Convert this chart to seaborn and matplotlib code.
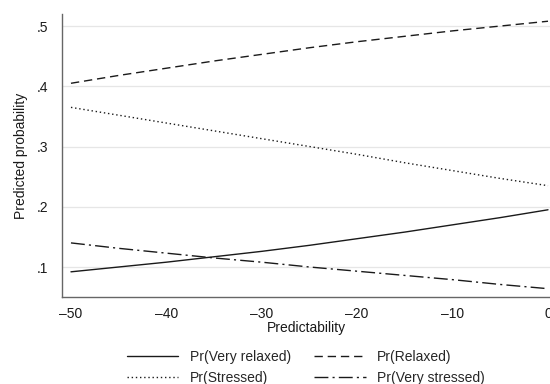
import pandas as pd
import matplotlib
matplotlib.use("Agg")
import matplotlib.pyplot as plt
import seaborn as sns

#-------------------------------------------------------------------------

# Values
predictability = [-50, -45, -40, -35, -30, -25, -20, -15, -10, -5, 0]
very_relaxed = [.092, .100, .108, .117, .126, .136, .147, .158, .170, .182, .195]
relaxed = [.405, .418, .430, .442, .453, .464, .474, .483, .492, .500, .508]
stressed = [.365, .352, .339, .326, .313, .300, .287, .273, .260, .247, .235]
very_stressed = [.140, .131, .123, .115, .108, .100, .093, .086, .079, .071, .064]

labels = ["Pr(Very relaxed)", "Pr(Relaxed)", "Pr(Stressed)", "Pr(Very stressed)"]
x_ticks = [-50, -40, -30, -20, -10, 0]
x_ticklabels = ["\u201350", "\u201340", "\u201330", "\u201320", "\u201310", "0"]
y_ticks = [.1, .2, .3, .4, .5]
y_ticklabels = [".1", ".2", ".3", ".4", ".5"]

#-------------------------------------------------------------------------

def main():
    sns.set_style("white")
    plt.rcParams['font.family'] = ['Liberation Sans', 'DejaVu Sans']
    fs = 10

    series = [very_relaxed, relaxed, stressed, very_stressed]
    styles = ['-', (0, (6, 3.5)), (0, (1, 2)), (0, (10, 3, 1.5, 3))]

    fig = plt.figure(figsize=(5.5, 3.84), dpi=100)
    ax = fig.add_axes([62 / 550, 1 - 297 / 384, 488 / 550, 283 / 384])

    for vals, lab, ls in zip(series, labels, styles):
        df = pd.DataFrame({'x': predictability, 'y': vals})
        sns.lineplot(data=df, x='x', y='y', ax=ax, color='#1a1a1a',
                     linewidth=1.0, linestyle=ls, label=lab)

    ax.set_xlim(-50.94, 0.21)
    ax.set_ylim(0.0502, 0.52)
    ax.set_xticks(x_ticks)
    ax.set_xticklabels(x_ticklabels)
    ax.set_yticks(y_ticks)
    ax.set_yticklabels(y_ticklabels)
    ax.yaxis.grid(True, color='#e6e6e6', linewidth=0.9)
    ax.xaxis.grid(False)

    for side in ['top', 'right']:
        ax.spines[side].set_visible(False)
    for side in ['left', 'bottom']:
        ax.spines[side].set_color('#666666')
        ax.spines[side].set_linewidth(1.0)

    ax.tick_params(axis='both', direction='out', length=5, width=0.8,
                   color='#444444', labelsize=fs, pad=2, labelcolor='#1a1a1a')
    ax.tick_params(axis='y', pad=5)
    ax.set_xlabel('Predictability', fontsize=fs, labelpad=0, color='#1a1a1a')
    ax.set_ylabel('Predicted probability', fontsize=fs, labelpad=6, color='#1a1a1a')

    # Legend: rows are (Very relaxed, Relaxed), (Stressed, Very stressed)
    handles, labs = ax.get_legend_handles_labels()
    order = [0, 2, 1, 3]
    ax.legend([handles[i] for i in order], [labs[i] for i in order],
              loc='upper left', bbox_to_anchor=(127 / 550, 1 - 350 / 384),
              bbox_transform=fig.transFigure, ncol=2, frameon=False,
              fontsize=fs, handlelength=3.7, columnspacing=1.7,
              labelspacing=0.5, handletextpad=0.8, borderpad=0,
              borderaxespad=0)

    fig.savefig('out.png', dpi=100)

#-------------------------------------------------------------------------

if __name__ == '__main__':
    main()
